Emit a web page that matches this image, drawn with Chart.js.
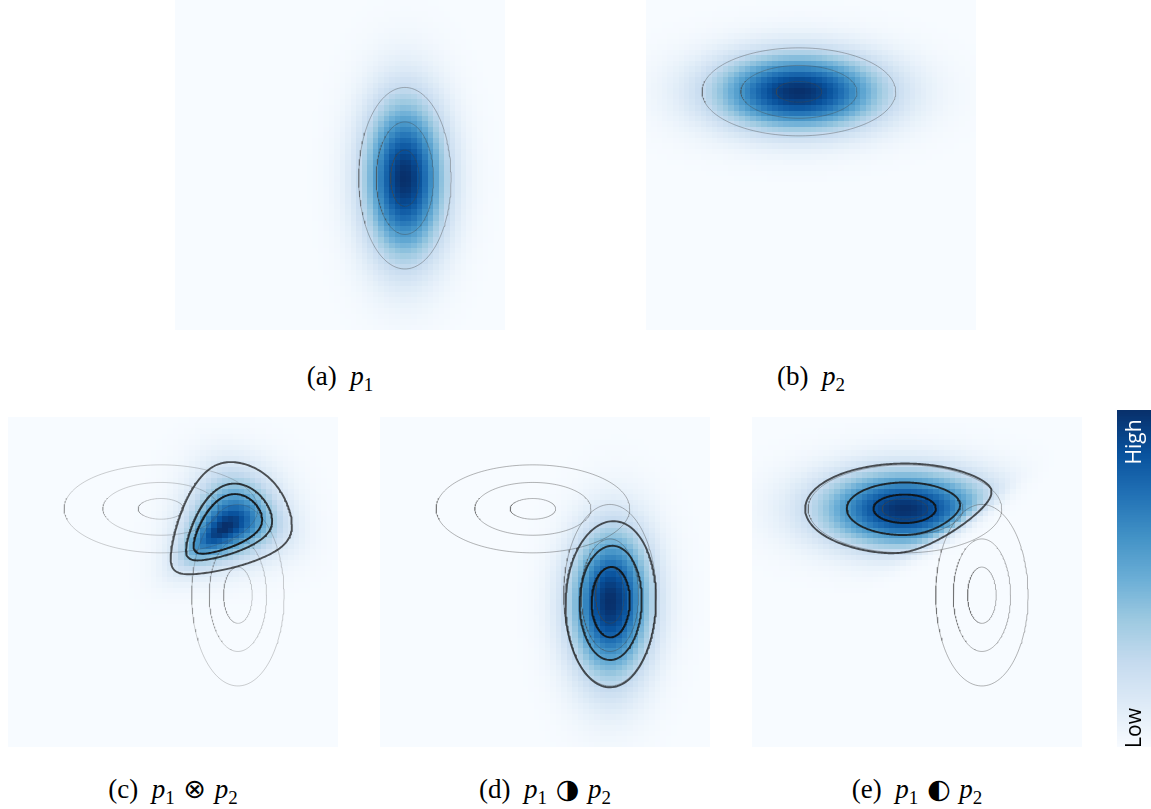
<!DOCTYPE html>
<html>
<head>
<meta charset="utf-8">
<script src="https://cdn.jsdelivr.net/npm/chart.js@4.4.1/dist/chart.umd.min.js"></script>
<style>
  body { margin: 0; background: #fff; }
  #fig { position: relative; width: 1151px; height: 809px; overflow: hidden; }
  #fig canvas { position: absolute; }
  .cap { position: absolute; text-align: center; font-family: "Liberation Serif", "DejaVu Serif", serif; font-size: 27px; line-height: 30px; color: #000; }
  .cap sub { font-size: 19px; vertical-align: -6px; line-height: 0; }
  .cap .op { font-family: "DejaVu Sans", sans-serif; font-size: 27px; line-height: 0; margin: 0 2px; }
  .cb { position: absolute; font-family: "Open Sans", sans-serif; font-size: 21px; line-height: 22px; white-space: nowrap; transform: translate(-50%, -50%) rotate(-90deg); }
</style>
</head>
<body>
<div id="fig"></div>
<script>
/* values, in axis units (every panel spans -3..3 both ways) */
const panelNames = ['a', 'b', 'c', 'd', 'e']
const captionOps = ['', '', '⊗', '◑', '◐']
const p1Mean = [1.18, -0.24]
const p1Axes = [0.84, 1.65]
const p2Mean = [-0.22, 1.33]
const p2Axes = [1.76, 0.80]
const p1Rings = [1.0, 0.62, 0.31]
const p2Rings = [1.0, 0.60, 0.235]
const spread = 0.6
const spreadC = 0.65
const levelsC = [0.063, 0.157, 0.221]
const levelsD = [0.236, 0.48, 0.71]
const levelsE = [0.229, 0.607, 0.864]
const tiltD = [1.07, 0.63, -1.31]   // bias, x, y
const cutE = [-4.3, -6.36, 8.98]    // bias, x, y
const softMaxPow = 8
const gridN = 60
const colorbarLabels = ['High', 'Low']

/* layout */
const layout = {
  a: { left: 175, top: 0, capTop: 361 }, b: { left: 646, top: 0, capTop: 361 },
  c: { left: 8, top: 417, capTop: 774 }, d: { left: 380, top: 417, capTop: 774 }, e: { left: 752, top: 417, capTop: 774 }
}
const panelSize = 330
const ringAlpha = { a: 0.38, b: 0.38, c: 0.26, d: 0.4, e: 0.4 }
const levelColors = ['rgba(20,20,20,0.72)', 'rgba(20,20,20,0.82)', 'rgba(15,15,15,0.9)']

const blues = [[247,251,255],[222,235,247],[198,219,239],[158,202,225],[107,174,214],[66,146,198],[33,113,181],[8,81,156],[8,48,107]]
function bluesAt(v) {
  v = Math.max(0, Math.min(1, v)) * (blues.length - 1)
  const i = Math.min(blues.length - 2, Math.floor(v)), t = v - i
  const c = blues[i].map((a, k) => Math.round(a + (blues[i + 1][k] - a) * t))
  return `rgb(${c[0]},${c[1]},${c[2]})`
}

const sig = v => 1 / (1 + Math.exp(-v))
const rad = (x, y, m, a) => Math.hypot((x - m[0]) / a[0], (y - m[1]) / a[1])
const bump = (r, s = spread) => Math.exp(-r * r / (2 * s * s))

const fields = {
  a: (x, y) => bump(rad(x, y, p1Mean, p1Axes)),
  b: (x, y) => bump(rad(x, y, p2Mean, p2Axes)),
  c: (x, y) => {
    const r1 = rad(x, y, p1Mean, p1Axes), r2 = rad(x, y, p2Mean, p2Axes)
    return bump(Math.pow(r1 ** softMaxPow + r2 ** softMaxPow, 1 / softMaxPow), spreadC)
  },
  d: (x, y) => bump(rad(x, y, p1Mean, p1Axes)) * sig(tiltD[0] + tiltD[1] * x + tiltD[2] * y),
  e: (x, y) => bump(rad(x, y, p2Mean, p2Axes)) * sig(cutE[0] + cutE[1] * x + cutE[2] * y)
}
const levels = { a: [], b: [], c: levelsC, d: levelsD, e: levelsE }
const rings = {
  a: [[p1Mean, p1Axes, p1Rings]],
  b: [[p2Mean, p2Axes, p2Rings]],
  c: [[p1Mean, p1Axes, p1Rings], [p2Mean, p2Axes, p2Rings]],
  d: [[p1Mean, p1Axes, p1Rings], [p2Mean, p2Axes, p2Rings]],
  e: [[p1Mean, p1Axes, p1Rings], [p2Mean, p2Axes, p2Rings]]
}

function sampleGrid(f, nx, ny) {
  const vals = [], step = 6 / nx
  let best = -1, bestAt = [0, 0]
  for (let j = 0; j < ny; j++) for (let i = 0; i < nx; i++) {
    const x = -3 + (i + 0.5) * step, y = -3 + (j + 0.5) * step
    const v = f(x, y)
    vals.push(v)
    if (v > best) { best = v; bestAt = [x, y] }
  }
  return { nx, ny, x0: -3, x1: 3, y0: -3, y1: 3, values: vals.map(v => v / best), peak: bestAt }
}

function ellipse(m, a, s) {
  const pts = []
  for (let k = 0; k <= 180; k++) {
    const t = k / 180 * 2 * Math.PI
    pts.push({ x: m[0] + s * a[0] * Math.cos(t), y: m[1] + s * a[1] * Math.sin(t) })
  }
  return pts
}

function contour(f, c, level) {
  const pts = []
  for (let k = 0; k <= 240; k++) {
    const t = k / 240 * 2 * Math.PI, ux = Math.cos(t), uy = Math.sin(t)
    let lo = 0, hi = 0.02
    while (hi < 6 && f(c[0] + hi * ux, c[1] + hi * uy) > level) { lo = hi; hi += 0.02 }
    for (let it = 0; it < 25; it++) {
      const mid = (lo + hi) / 2
      if (f(c[0] + mid * ux, c[1] + mid * uy) > level) lo = mid; else hi = mid
    }
    pts.push({ x: c[0] + lo * ux, y: c[1] + lo * uy })
  }
  return pts
}

function heatPlugin(grid) {
  return {
    id: 'heat',
    beforeDatasetsDraw(chart) {
      const { ctx, scales: { x, y } } = chart
      const dx = (grid.x1 - grid.x0) / grid.nx, dy = (grid.y1 - grid.y0) / grid.ny
      for (let j = 0; j < grid.ny; j++) {
        for (let i = 0; i < grid.nx; i++) {
          const px0 = Math.floor(x.getPixelForValue(grid.x0 + i * dx))
          const px1 = Math.ceil(x.getPixelForValue(grid.x0 + (i + 1) * dx))
          const py0 = Math.floor(y.getPixelForValue(grid.y0 + (j + 1) * dy))
          const py1 = Math.ceil(y.getPixelForValue(grid.y0 + j * dy))
          ctx.fillStyle = bluesAt(grid.values[j * grid.nx + i])
          ctx.fillRect(px0, py0, px1 - px0, py1 - py0)
        }
      }
    }
  }
}

const fig = document.getElementById('fig')
const baseOptions = (min, max) => ({
  responsive: false,
  animation: false,
  devicePixelRatio: 1,
  layout: { padding: 0 },
  events: [],
  plugins: { legend: { display: false }, tooltip: { enabled: false }, title: { display: false } },
  scales: {
    x: { type: 'linear', min: min, max: max, display: false },
    y: { type: 'linear', min: min, max: max, display: false }
  }
})

panelNames.forEach((name, idx) => {
  const f = fields[name]
  const grid = sampleGrid(f, gridN, gridN)
  const datasets = []

  // dark contours of the combined density (first = drawn on top)
  levels[name].forEach((lv, k) => {
    datasets.push({
      data: contour(f, grid.peak, lv),
      showLine: true, pointRadius: 0, borderWidth: 1.9, tension: 0,
      borderColor: levelColors[k], borderJoinStyle: 'round'
    })
  })
  // grey rings of p1 / p2
  rings[name].forEach(([m, a, rs]) => {
    rs.forEach(s => {
      datasets.push({
        data: ellipse(m, a, s),
        showLine: true, pointRadius: 0, borderWidth: 1, tension: 0,
        borderColor: `rgba(70,70,70,${ringAlpha[name]})`
      })
    })
  })

  const cv = document.createElement('canvas')
  cv.width = panelSize; cv.height = panelSize
  cv.style.left = layout[name].left + 'px'
  cv.style.top = layout[name].top + 'px'
  fig.appendChild(cv)
  new Chart(cv, { type: 'scatter', data: { datasets }, options: baseOptions(-3, 3), plugins: [heatPlugin(grid)] })

  const cap = document.createElement('div')
  cap.className = 'cap'
  cap.style.left = layout[name].left + 'px'
  cap.style.width = panelSize + 'px'
  cap.style.top = layout[name].capTop + 'px'
  let html = `(${name})&nbsp; <i>p</i><sub>1</sub>`
  if (name === 'b') html = `(${name})&nbsp; <i>p</i><sub>2</sub>`
  if (captionOps[idx]) html += ` <span class="op">${captionOps[idx]}</span> <i>p</i><sub>2</sub>`
  cap.innerHTML = html
  fig.appendChild(cap)
})

/* colour bar */
const cbN = 200
const cbGrid = { nx: 1, ny: cbN, x0: 0, x1: 1, y0: 0, y1: 1, values: Array.from({ length: cbN }, (_, j) => (j + 0.5) / cbN) }
const cb = document.createElement('canvas')
cb.width = 34; cb.height = 337
cb.style.left = '1117px'; cb.style.top = '410px'
fig.appendChild(cb)
new Chart(cb, { type: 'scatter', data: { datasets: [] }, options: baseOptions(0, 1), plugins: [heatPlugin(cbGrid)] })

const hi = document.createElement('div')
hi.className = 'cb'
hi.style.left = '1133px'; hi.style.top = '442px'; hi.style.color = '#fff'
hi.textContent = colorbarLabels[0]
fig.appendChild(hi)
const lo = document.createElement('div')
lo.className = 'cb'
lo.style.left = '1133px'; lo.style.top = '728px'; lo.style.color = '#000'
lo.textContent = colorbarLabels[1]
fig.appendChild(lo)
</script>
</body>
</html>
